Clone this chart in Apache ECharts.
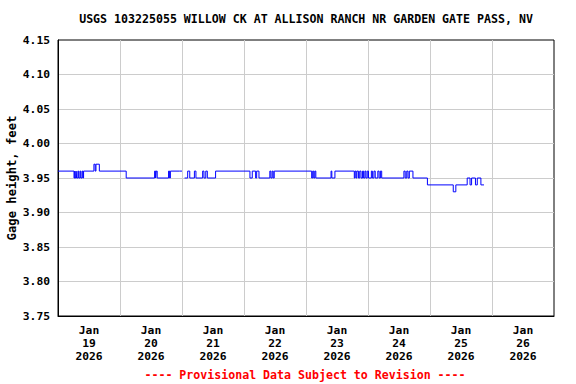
<!DOCTYPE html>
<html>
<head>
<meta charset="utf-8">
<script src="https://cdn.jsdelivr.net/npm/echarts@6/dist/echarts.min.js"></script>
<style>html,body{margin:0;padding:0;background:#fff}#c{width:576px;height:384px}</style>
</head>
<body>
<div id="c"></div>
<script>
const titleText = 'USGS 103225055 WILLOW CK AT ALLISON RANCH NR GARDEN GATE PASS, NV';
const footerText = '---- Provisional Data Subject to Revision ----';
const yAxisName = 'Gage height, feet';
const dayLabels = ['Jan\n19\n2026','Jan\n20\n2026','Jan\n21\n2026','Jan\n22\n2026','Jan\n23\n2026','Jan\n24\n2026','Jan\n25\n2026','Jan\n26\n2026'];
const yMin = 3.75, yMax = 4.15, yStep = 0.05;
// hours since Jan 19 2026 00:00 at which the gage height changes
const hours = [0,6.2,6.5,6.7,7.0,7.2,7.7,8.0,8.5,8.8,9.3,9.6,9.9,13.9,14.4,14.7,16.0,26.4,37.4,37.8,38.0,38.4,42.8,43.2,43.5,47.1,48.0,
  49.0,50.2,51.0,52.8,53.4,56.0,56.5,57.2,57.8,61.0,74.3,75.2,76.5,76.9,77.8,82.0,82.4,82.9,83.3,83.7,
  98.2,98.6,99.0,99.4,99.8,105.7,106.0,107.2,114.7,115.0,115.4,115.7,116.3,116.8,117.3,117.9,118.3,118.8,119.2,119.7,
  120.2,121.3,121.7,122.3,122.8,123.8,124.3,124.8,125.3,133.9,134.4,135.0,135.5,136.0,137.4,143.0,
  153.0,154.0,158.4,159.5,160.1,161.6,162.3,163.7,164.9];
const stage = [3.96,3.95,3.96,3.95,3.96,3.95,3.96,3.95,3.96,3.95,3.96,3.95,3.96,3.97,3.96,3.97,3.96,3.95,3.96,3.95,3.96,3.95,3.96,3.95,3.96,3.96,null,
  3.95,3.96,3.95,3.96,3.95,3.96,3.95,3.96,3.95,3.96,3.95,3.96,3.95,3.96,3.95,3.96,3.95,3.96,3.95,3.96,
  3.95,3.96,3.95,3.96,3.95,3.96,3.95,3.96,3.95,3.96,3.95,3.96,3.95,3.96,3.95,3.96,3.95,3.96,3.95,3.96,
  3.95,3.96,3.95,3.96,3.95,3.96,3.95,3.96,3.95,3.96,3.95,3.96,3.95,3.96,3.95,3.94,
  3.93,3.94,3.95,3.94,3.95,3.94,3.95,3.94,3.94];

const FONT = 'DejaVu Sans Mono';
const chart = echarts.init(document.getElementById('c'), null, {renderer: 'svg'});
chart.setOption({
  animation: false,
  backgroundColor: '#fff',
  grid: {left: 58, right: 22, top: 40, bottom: 68, containLabel: false, outerBoundsMode: 'none',
         show: true, borderColor: '#000', borderWidth: 1, backgroundColor: 'transparent'},
  graphic: [
    {type: 'text', x: 306, y: 19, style: {text: titleText, fill: '#000', font: 'bold 11.6px "DejaVu Sans Mono"', textAlign: 'center', textVerticalAlign: 'middle'}},
    {type: 'text', x: 305, y: 375, style: {text: footerText, fill: '#ff0000', font: 'bold 11.6px "DejaVu Sans Mono"', textAlign: 'center', textVerticalAlign: 'middle'}},
    {type: 'text', x: 12, y: 178, rotation: Math.PI / 2, style: {text: yAxisName, fill: '#000', font: 'bold 12.2px "DejaVu Sans Mono"', textAlign: 'center', textVerticalAlign: 'middle'}}
  ],
  xAxis: [
    {type: 'category', data: dayLabels, boundaryGap: true, position: 'bottom',
     axisLine: {show: true, lineStyle: {color: '#000', width: 1}},
     axisTick: {show: false},
     axisLabel: {interval: 0, color: '#000', fontFamily: FONT, fontWeight: 'bold', fontSize: 11.3, lineHeight: 13, margin: 8},
     splitLine: {show: true, interval: 0, showMinLine: false, showMaxLine: false, lineStyle: {color: '#cccccc', width: 1}}},
    {type: 'value', min: 0, max: 192, show: false}
  ],
  yAxis: {
    type: 'value', min: yMin, max: yMax, interval: yStep,
    axisLine: {show: true, lineStyle: {color: '#000', width: 1}},
    axisTick: {show: false},
    axisLabel: {color: '#000', fontFamily: FONT, fontWeight: 'bold', fontSize: 11.3, margin: 8, formatter: v => v.toFixed(2)},
    splitLine: {show: true, showMinLine: false, showMaxLine: false, lineStyle: {color: '#cccccc', width: 1}}
  },
  series: [{
    type: 'line', xAxisIndex: 1, step: 'end', showSymbol: false, symbol: 'none', connectNulls: false,
    lineStyle: {color: '#0000ff', width: 1}, itemStyle: {color: '#0000ff'},
    data: hours.map((h, i) => [h, stage[i]])
  }]
});
</script>
</body>
</html>
